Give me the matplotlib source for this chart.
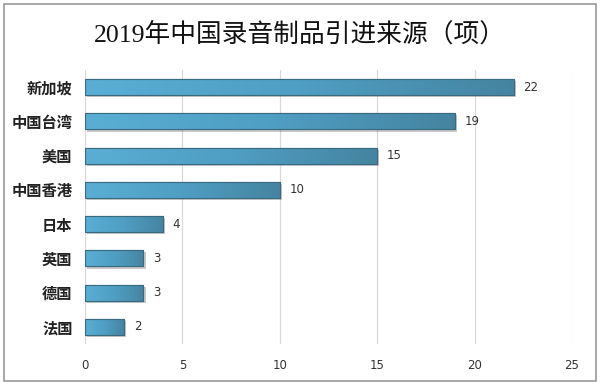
import numpy as np
import matplotlib
matplotlib.use("Agg")
import matplotlib.pyplot as plt
import matplotlib.patheffects as pe
from matplotlib.patches import Rectangle
from matplotlib.colors import LinearSegmentedColormap

plt.rcParams['font.family'] = ['Noto Sans CJK SC', 'DejaVu Sans']

regions = ['新加坡', '中国台湾', '美国', '中国香港', '日本', '英国', '德国', '法国']
counts = [22, 19, 15, 10, 4, 3, 3, 2]
xticks = [0, 5, 10, 15, 20, 25]

fig = plt.figure(figsize=(6, 3.85), dpi=100, facecolor='white')
ax = fig.add_axes([0.1417, 0.1065, 0.8116, 0.7115])
ax.set_facecolor('white')

y = np.arange(len(regions))
bars = ax.barh(y, counts, height=0.47, color='#4d9cc2', edgecolor='#3b6e86',
               linewidth=0.8, zorder=3)

# horizontal gradient inside each bar, plus a soft drop shadow
cmap = LinearSegmentedColormap.from_list('bar', ['#5aaed4', '#4f9ec3', '#4584a1'])
grad = np.linspace(0, 1, 256).reshape(1, -1)
for b in bars:
    x0, y0, w, h = b.get_x(), b.get_y(), b.get_width(), b.get_height()
    im = ax.imshow(grad, extent=[x0, x0 + w, y0, y0 + h], aspect='auto',
                   cmap=cmap, zorder=3.5, interpolation='bicubic')
    im.set_clip_path(b)
    b.set_path_effects([pe.SimplePatchShadow(offset=(1.5, -1.5), alpha=0.35,
                                              shadow_rgbFace='#666666'),
                        pe.Normal()])
    edge = Rectangle((x0, y0), w, h, fill=False, edgecolor='#3a6a80',
                     linewidth=0.8, zorder=4)
    ax.add_patch(edge)

for yi, v in zip(y, counts):
    ax.annotate(str(v), (v, yi), xytext=(7, 0), textcoords='offset points',
                va='center', ha='left', fontsize=8.5, color='#333333',
                family=['DejaVu Sans'])

ax.set_xlim(0, 25)
ax.set_ylim(len(regions) - 0.5, -0.5)
ax.set_xticks(xticks)
ax.set_xticklabels([str(t) for t in xticks], family=['DejaVu Sans'])
ax.set_yticks(y)
ax.set_yticklabels(regions, fontweight='bold', fontsize=11, color='#222222')
ax.tick_params(axis='x', length=0, pad=11, labelsize=8.5, labelcolor='#333333')
ax.tick_params(axis='y', length=0, pad=9)
ax.xaxis.grid(True, color='#d9d9d9', linewidth=0.9, zorder=0)
ax.set_axisbelow(True)
for sp in ax.spines.values():
    sp.set_visible(False)

fig.text(0.5, 0.912, '2019年中国录音制品引进来源（项）', ha='center', va='center',
         fontsize=18.5, color='#111111', family=['Liberation Serif', 'Noto Sans CJK SC'])

# outer frame of the chart
fig.patches.append(Rectangle((0.006, 0.01), 0.988, 0.98, transform=fig.transFigure,
                             fill=False, edgecolor='#9a9a9a', linewidth=1.2))

fig.savefig('out.png', dpi=100, facecolor='white')
